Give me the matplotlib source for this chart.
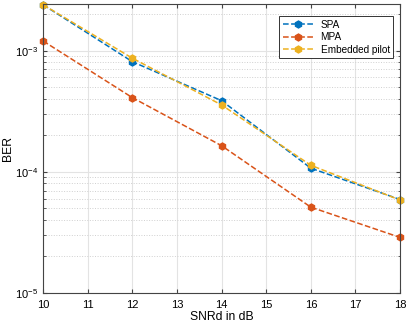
import numpy as np
import matplotlib.pyplot as plt
from matplotlib.ticker import LogLocator, NullFormatter

plt.rcParams['font.family'] = ['Liberation Sans', 'DejaVu Sans']

snr = [10, 12, 14, 16, 18]
ber_spa = [2.39e-3, 8.1e-4, 3.86e-4, 1.07e-4, 5.9e-5]
ber_mpa = [1.2e-3, 4.09e-4, 1.64e-4, 5.1e-5, 2.87e-5]
ber_emb = [2.39e-3, 8.65e-4, 3.56e-4, 1.13e-4, 5.84e-5]
labels = ['SPA', 'MPA', 'Embedded pilot']
colors = ['#0072BD', '#D95319', '#EDB120']

fig = plt.figure(figsize=(4.07, 3.24), dpi=100)
ax = fig.add_axes([0.106, 0.096, 0.877, 0.892])

for y, lab, c in zip([ber_spa, ber_mpa, ber_emb], labels, colors):
    ax.semilogy(snr, y, '--', color=c, marker='h', markersize=5,
                linewidth=1.1, label=lab, clip_on=False)

ax.set_xlim(10, 18)
ax.set_ylim(1e-5, 2.43e-3)
ax.set_xticks(range(10, 19))
ax.yaxis.set_major_locator(LogLocator(base=10, numticks=10))
ax.yaxis.set_minor_locator(LogLocator(base=10, subs=np.arange(2, 10), numticks=20))
ax.yaxis.set_minor_formatter(NullFormatter())

ax.grid(True, which='major', color='#e3e3e3', linewidth=0.8)
ax.grid(True, which='minor', axis='y', color='#d0d0d0', linestyle=':', linewidth=0.7)
ax.set_axisbelow(True)

ax.tick_params(which='both', direction='in', top=True, right=True,
               labelsize=8, color='#444444')
ax.tick_params(which='major', length=3)
ax.tick_params(axis='x', pad=5)
ax.tick_params(which='minor', length=1.8)
for s in ax.spines.values():
    s.set_color('#444444')
    s.set_linewidth(0.8)

ax.set_xlabel('SNRd in dB', fontsize=8.7, labelpad=1)
ax.set_ylabel('BER', fontsize=8.7, labelpad=0.5)

leg = ax.legend(loc='upper right', fontsize=7.2, fancybox=False, framealpha=1,
                edgecolor='#333333', handlelength=3.0, borderpad=0.35,
                labelspacing=0.25, bbox_to_anchor=(0.995, 0.975))
leg.get_frame().set_linewidth(0.7)

fig.savefig('out.png', dpi=100)
